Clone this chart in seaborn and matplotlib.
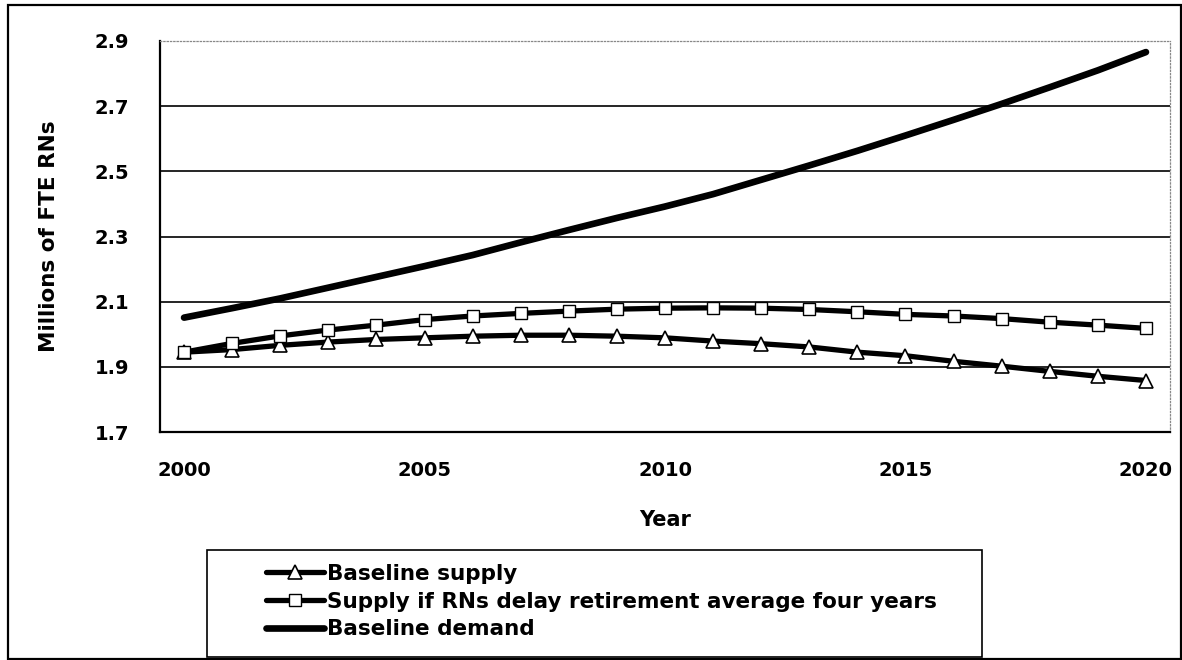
import numpy as np
import pandas as pd
import matplotlib.pyplot as plt
import seaborn as sns
from matplotlib.patches import Rectangle

sns.set_style("white")
plt.rcParams['font.family'] = ['DejaVu Sans']
plt.rcParams.update({'text.color': 'black', 'axes.labelcolor': 'black',
                     'xtick.color': 'black', 'ytick.color': 'black'})

# Data (millions of FTE RNs)
years = list(range(2000, 2021))
baseline_supply = [1.945, 1.953, 1.966, 1.976, 1.984, 1.989, 1.994, 1.997, 1.997, 1.994,
                   1.989, 1.979, 1.971, 1.961, 1.945, 1.934, 1.917, 1.902, 1.886, 1.871, 1.858]
delayed_supply = [1.945, 1.972, 1.995, 2.013, 2.028, 2.045, 2.056, 2.064, 2.071, 2.077,
                  2.080, 2.081, 2.080, 2.076, 2.069, 2.061, 2.056, 2.048, 2.037, 2.028, 2.018]
baseline_demand = [2.051, 2.080, 2.110, 2.143, 2.176, 2.209, 2.243, 2.282, 2.320, 2.357,
                   2.392, 2.430, 2.474, 2.518, 2.563, 2.610, 2.658, 2.707, 2.758, 2.810, 2.866]

series_labels = ['Baseline supply',
                 'Supply if RNs delay retirement average four years',
                 'Baseline demand']
x_tick_vals = [2000, 2005, 2010, 2015, 2020]
x_tick_labels = ['2000', '2005', '2010', '2015', '2020']
y_tick_vals = [1.7, 1.9, 2.1, 2.3, 2.5, 2.7, 2.9]
y_tick_labels = ['1.7', '1.9', '2.1', '2.3', '2.5', '2.7', '2.9']

df = pd.DataFrame({'year': years, 'base': baseline_supply,
                   'delay': delayed_supply, 'demand': baseline_demand})

fig = plt.figure(figsize=(11.82, 6.60), dpi=100)
ax = fig.add_axes([160/1182, 1 - 432/660, 1010/1182, 391/660])

sns.lineplot(data=df, x='year', y='base', ax=ax, color='black', linewidth=3.8,
             marker='^', markersize=10, markerfacecolor='white', markeredgecolor='black',
             markeredgewidth=1.2, solid_capstyle='round', label=series_labels[0], zorder=3)
sns.lineplot(data=df, x='year', y='delay', ax=ax, color='black', linewidth=3.8,
             marker='s', markersize=9, markerfacecolor='white', markeredgecolor='black',
             markeredgewidth=1.0, solid_capstyle='round', label=series_labels[1], zorder=4)
sns.lineplot(data=df, x='year', y='demand', ax=ax, color='black', linewidth=4.8,
             solid_capstyle='round', label=series_labels[2], zorder=5)

ax.set_xlim(1999.5, 2020.5)
ax.set_ylim(1.7, 2.9)
ax.set_xticks(x_tick_vals)
ax.set_xticklabels(x_tick_labels)
ax.set_xticks(np.arange(1999.5, 2021, 1.0), minor=True)
ax.set_yticks(y_tick_vals)
ax.set_yticklabels(y_tick_labels)

ax.tick_params(axis='x', which='major', length=0, pad=21, labelsize=14)
ax.tick_params(axis='x', which='minor', length=8, width=1.3, direction='out')
ax.tick_params(axis='y', which='major', length=8, width=1.3, direction='out', pad=14,
               labelsize=14)
for lab in ax.get_xticklabels() + ax.get_yticklabels():
    lab.set_fontweight('bold')

ax.yaxis.grid(True, color='black', linewidth=1.2)
ax.get_ygridlines()[-1].set_visible(False)
ax.set_axisbelow(True)

for s in ['left', 'bottom']:
    ax.spines[s].set_color('black')
    ax.spines[s].set_linewidth(1.6)
for s in ['top', 'right']:
    ax.spines[s].set_color('#888888')
    ax.spines[s].set_linewidth(0.9)
    ax.spines[s].set_linestyle(':')

ax.set_xlabel('Year', fontsize=15, fontweight='bold')
ax.xaxis.set_label_coords(0.5, -0.2)
ax.set_ylabel('Millions of FTE RNs', fontsize=15.5, fontweight='bold')
ax.yaxis.set_label_coords(-0.1, 0.5)

handles, labels = ax.get_legend_handles_labels()
ax.get_legend().remove()
fig.legend(handles, labels, loc='upper left', bbox_to_anchor=(255/1182, 1 - 553/660),
           frameon=False, borderpad=0, handlelength=2.7, handletextpad=0.15,
           labelspacing=0.36, prop={'size': 15.5, 'weight': 'bold'})

# legend box and outer chart border
fig.patches.append(Rectangle((207/1182, 1 - 657/660), 775/1182, 107/660,
                             transform=fig.transFigure, fill=False,
                             edgecolor='black', linewidth=1.2))
fig.patches.append(Rectangle((8/1182, 1 - 659/660), 1173/1182, 654/660,
                             transform=fig.transFigure, fill=False,
                             edgecolor='black', linewidth=1.6))

fig.savefig('out.png', dpi=100)
plt.close(fig)
